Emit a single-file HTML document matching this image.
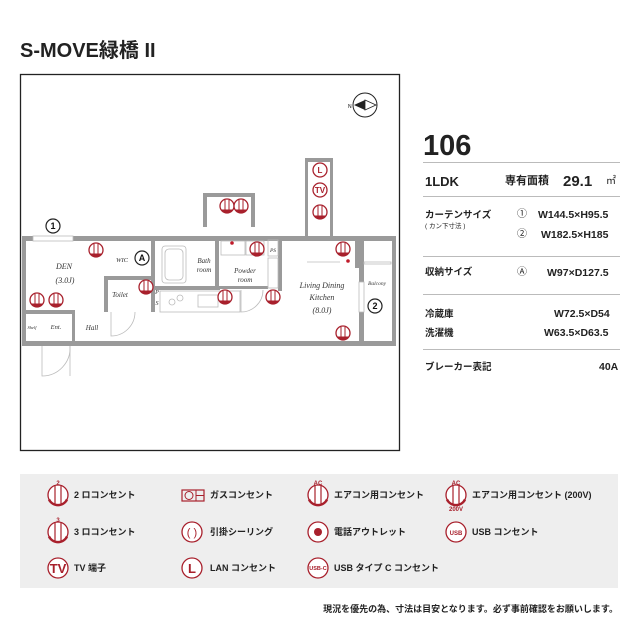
<!DOCTYPE html>
<html><head><meta charset="utf-8"><style>
html,body{margin:0;padding:0;background:#fff;width:640px;height:640px;overflow:hidden}
svg{display:block}
.j{font-family:"Liberation Sans","Noto Sans CJK JP",sans-serif}
.s{font-family:"Liberation Serif",serif;font-style:italic}
</style></head><body>
<svg width="640" height="640" viewBox="0 0 640 640" xmlns="http://www.w3.org/2000/svg">
<defs>
<g id="o"><circle r="7" fill="#fff" stroke="#a8202c" stroke-width="1.3"/><line x1="-2" y1="-6" x2="-2" y2="6" stroke="#a8202c" stroke-width="1"/><line x1="2" y1="-6" x2="2" y2="6" stroke="#a8202c" stroke-width="1"/><path d="M-6,3.5 A7,7 0 0 0 6,3.5Z" fill="#a8202c"/></g>
<g id="lo"><circle r="10" fill="#fff" stroke="#a8202c" stroke-width="1.3"/><line x1="-3" y1="-9" x2="-3" y2="9" stroke="#a8202c" stroke-width="1.2"/><line x1="3" y1="-9" x2="3" y2="9" stroke="#a8202c" stroke-width="1.2"/><path d="M-9,4.5 A10,10 0 0 0 9,4.5" fill="none" stroke="#a8202c" stroke-width="2.5"/></g>
</defs>
<text x="20" y="57" class="j" font-size="20" font-weight="bold" fill="#222">S-MOVE緑橋 II</text>
<rect x="20.5" y="74.5" width="379" height="376" fill="none" stroke="#222" stroke-width="1.3"/>
<!-- compass -->
<circle cx="365" cy="105" r="12" fill="#fff" stroke="#222"/>
<path d="M354,105 L365,100 L365,110Z" fill="#222"/><path d="M365,100 L376,105 L365,110Z" fill="#fff" stroke="#222" stroke-width=".8"/>
<text x="348" y="108" font-size="5" class="j">N</text>
<!-- plan walls -->
<g fill="#9a9a9a">
<rect x="22" y="236" width="374" height="5"/>
<rect x="22" y="341" width="374" height="5"/>
<rect x="22" y="236" width="4" height="110"/>
<rect x="392" y="236" width="4" height="110"/>
<rect x="151" y="236" width="4" height="40"/>
<rect x="104" y="276" width="51" height="4"/>
<rect x="104" y="276" width="4" height="36"/>
<rect x="22" y="310" width="52" height="4"/>
<rect x="72" y="310" width="3" height="36"/>
<rect x="151" y="280" width="4" height="32"/>
<rect x="215" y="236" width="4" height="52"/>
<rect x="155" y="286" width="65" height="4"/>
<rect x="218" y="286" width="50" height="3"/>
<rect x="278" y="236" width="4" height="55"/>
<rect x="355" y="236" width="4" height="32"/>
<rect x="359" y="240" width="5" height="105"/>
<rect x="203" y="193" width="50" height="4"/>
<rect x="203" y="193" width="4" height="34"/>
<rect x="251" y="193" width="4" height="34"/>
<rect x="305" y="158" width="27" height="4"/>
<rect x="305" y="158" width="3" height="80"/>
<rect x="330" y="158" width="3" height="80"/>
</g>
<g fill="none" stroke="#bbb" stroke-width=".8">
<rect x="33" y="236" width="40" height="5" fill="#fff"/>
<rect x="162" y="246" width="24" height="37" rx="3"/>
<rect x="165" y="249" width="18" height="31" rx="4"/>
<rect x="268" y="240" width="10" height="16"/><rect x="268" y="258" width="10" height="30"/>
<rect x="160" y="291" width="80" height="21"/><circle cx="172" cy="302" r="3"/><circle cx="180" cy="298" r="3"/><rect x="198" y="295" width="20" height="12"/>
<rect x="221" y="241" width="24" height="14"/><rect x="246" y="241" width="18" height="14"/>
<path d="M42,346 L42,376 A28,28 0 0 0 70,346"/><line x1="70" y1="346" x2="70" y2="376"/>
<path d="M111,312 L111,336 A24,24 0 0 0 135,312"/>
<path d="M241,290 L241,312 A22,22 0 0 0 263,290"/>
<line x1="307" y1="262" x2="340" y2="262"/>
<rect x="364" y="262" width="27" height="2"/>
</g>
<rect x="359" y="282" width="5" height="30" fill="#fff" stroke="#bbb" stroke-width=".8"/>
<circle cx="232" cy="243" r="1.8" fill="#c01a2a"/><circle cx="348" cy="261" r="1.8" fill="#c01a2a"/>
<!-- labels -->
<g class="s" fill="#333" text-anchor="middle" font-size="8">
<text x="64" y="269">DEN</text><text x="65" y="283">(3.0J)</text>
<text x="122" y="262" font-size="6.5">WIC</text>
<text x="204" y="263" font-size="7">Bath</text><text x="204" y="272" font-size="7">room</text>
<text x="245" y="273" font-size="7">Powder</text><text x="245" y="282" font-size="7">room</text>
<text x="120" y="297" font-size="7">Toilet</text>
<text x="157" y="294" font-size="6">P</text><text x="157" y="305" font-size="6">S</text>
<text x="273" y="252" font-size="5.5">PS</text>
<text x="56" y="329" font-size="6.5">Ent.</text><text x="32" y="329" font-size="4.5">Shelf</text>
<text x="92" y="330" font-size="7">Hall</text>
<text x="322" y="288">Living Dining</text><text x="322" y="300">Kitchen</text><text x="322" y="313">(8.0J)</text>
<text x="377" y="285" font-size="5.5">Balcony</text>
</g>
<g fill="#fff" stroke="#222" stroke-width="1.2">
<circle cx="53" cy="226" r="7"/><circle cx="142" cy="258" r="7"/><circle cx="375" cy="306" r="7"/></g>
<g class="j" font-size="9" text-anchor="middle" fill="#111" font-weight="bold"><text x="53" y="229">1</text><text x="142" y="261">A</text><text x="375" y="309">2</text></g>
<!-- outlets -->
<g><use href="#o" x="96" y="250"/><use href="#o" x="37" y="300"/><use href="#o" x="56" y="300"/><use href="#o" x="227" y="206"/><use href="#o" x="241" y="206"/><use href="#o" x="257" y="249"/><use href="#o" x="343" y="249"/><use href="#o" x="146" y="287"/><use href="#o" x="225" y="297"/><use href="#o" x="273" y="297"/><use href="#o" x="343" y="333"/><use href="#o" x="320" y="212"/></g>
<g stroke="#a8202c" fill="#fff" stroke-width="1.3"><circle cx="320" cy="170" r="7"/><circle cx="320" cy="190" r="7"/></g>
<g class="j" font-size="8" font-weight="bold" fill="#a8202c" text-anchor="middle"><text x="320" y="173">L</text><text x="320" y="193">TV</text></g>
<!-- right panel -->
<g class="j" fill="#222">
<text x="423" y="155" font-size="29" font-weight="bold">106</text>
<rect x="423" y="162" width="197" height="1" fill="#bbb"/>
<text x="425" y="186" font-size="13" font-weight="bold">1LDK</text>
<text x="505" y="184" font-size="11" font-weight="bold">専有面積</text>
<text x="563" y="186" font-size="15" font-weight="bold">29.1</text>
<text x="606" y="184" font-size="10">㎡</text>
<rect x="423" y="196" width="197" height="1" fill="#bbb"/>
<text x="425" y="218" font-size="9.5" font-weight="bold">カーテンサイズ</text>
<text x="425" y="228" font-size="6.5">( カン下寸法 )</text>
<text x="517" y="217" font-size="10">①</text><text x="538" y="218" font-size="10.5" font-weight="bold">W144.5×H95.5</text>
<text x="517" y="237" font-size="10">②</text><text x="541" y="238" font-size="10.5" font-weight="bold">W182.5×H185</text>
<rect x="423" y="256" width="197" height="1" fill="#bbb"/>
<text x="425" y="275" font-size="9.5" font-weight="bold">収納サイズ</text>
<text x="517" y="275" font-size="10">Ⓐ</text><text x="547" y="276" font-size="10.5" font-weight="bold">W97×D127.5</text>
<rect x="423" y="294" width="197" height="1" fill="#bbb"/>
<text x="425" y="317" font-size="9.5" font-weight="bold">冷蔵庫</text><text x="554" y="317" font-size="10.5" font-weight="bold">W72.5×D54</text>
<text x="425" y="336" font-size="9.5" font-weight="bold">洗濯機</text><text x="544" y="336" font-size="10.5" font-weight="bold">W63.5×D63.5</text>
<rect x="423" y="349" width="197" height="1" fill="#bbb"/>
<text x="425" y="370" font-size="9.5" font-weight="bold">ブレーカー表記</text><text x="599" y="370" font-size="10.5" font-weight="bold">40A</text>
</g>
<!-- legend -->
<rect x="20" y="474" width="598" height="114" fill="#eeeeee"/>
<g>
<use href="#lo" x="58" y="495"/><use href="#lo" x="58" y="532"/>
<use href="#lo" x="318" y="495"/><use href="#lo" x="456" y="495"/>
</g>
<g fill="#fff" stroke="#a8202c" stroke-width="1.3">
<circle cx="58" cy="568" r="10"/><circle cx="192" cy="532" r="10"/><circle cx="318" cy="532" r="10"/><circle cx="456" cy="532" r="10"/><circle cx="192" cy="568" r="10"/><circle cx="318" cy="568" r="10"/>
</g>
<circle cx="318" cy="532" r="4" fill="#a8202c"/>
<rect x="182" y="490" width="22" height="11" fill="none" stroke="#a8202c" stroke-width="1.2"/><circle cx="189" cy="495.5" r="4" fill="none" stroke="#a8202c"/><line x1="196" y1="495.5" x2="204" y2="495.5" stroke="#a8202c"/><line x1="196" y1="490" x2="196" y2="501" stroke="#a8202c"/>
<g class="j" fill="#a8202c" text-anchor="middle" font-weight="bold">
<text x="58" y="485" font-size="6">2</text><text x="58" y="522" font-size="6">3</text>
<text x="318" y="485" font-size="6">AC</text><text x="456" y="485" font-size="6">AC</text><text x="456" y="511" font-size="6">200V</text>
<text x="192" y="536" font-size="11" font-weight="normal">( )</text>
<text x="456" y="535" font-size="6">USB</text>
<text x="58" y="573" font-size="13">TV</text><text x="192" y="573" font-size="13">L</text><text x="318" y="570" font-size="5.5">USB-C</text>
</g>
<g class="j" fill="#222" font-size="9" font-weight="bold">
<text x="74" y="498">2 ロコンセント</text><text x="210" y="498">ガスコンセント</text><text x="334" y="498">エアコン用コンセント</text><text x="472" y="498">エアコン用コンセント (200V)</text>
<text x="74" y="535">3 ロコンセント</text><text x="210" y="535">引掛シーリング</text><text x="334" y="535">電話アウトレット</text><text x="472" y="535">USB コンセント</text>
<text x="74" y="571">TV 端子</text><text x="210" y="571">LAN コンセント</text><text x="334" y="571">USB タイプ C コンセント</text>
</g>
<text x="618" y="612" class="j" font-size="9" font-weight="bold" fill="#222" text-anchor="end">現況を優先の為、寸法は目安となります。必ず事前確認をお願いします。</text>
</svg>
</body></html>
